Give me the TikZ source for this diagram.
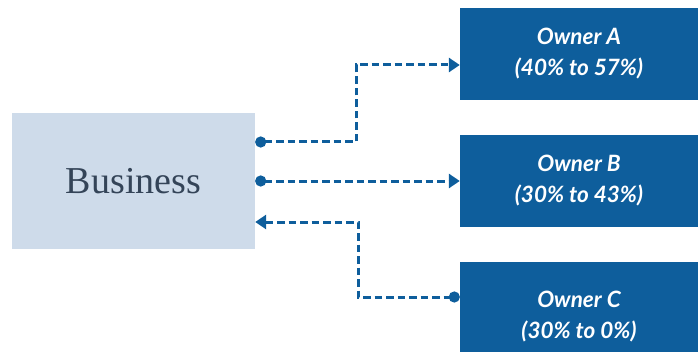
\documentclass[tikz,border=0pt]{standalone}
\usepackage{fontspec}
\setmainfont{Liberation Serif}
\newfontfamily\ownerfont{Lato}
\usetikzlibrary{arrows.meta}
\definecolor{ownerblue}{RGB}{14,94,156}
\definecolor{bizfill}{RGB}{206,219,234}
\definecolor{biztext}{RGB}{52,68,88}
\begin{document}
\begin{tikzpicture}[x=1pt,y=1pt,
    owner/.style={fill=ownerblue, text=white, minimum width=238pt, minimum height=92pt,
      inner sep=0pt, align=center, font=\ownerfont\bfseries\itshape\fontsize{22.5}{31}\selectfont},
    link/.style={draw=ownerblue, line width=3pt, dash pattern=on 7.5pt off 4pt},
    dot/.tip={Circle[length=11pt]},
    head/.tip={Triangle[length=11pt,width=14pt]}]
    \useasboundingbox (0,0) rectangle (700,351);
    \node[fill=bizfill, text=biztext, minimum width=243pt, minimum height=135pt, inner sep=0pt,
      font=\fontsize{38}{40}\selectfont] (business) at (133.5,170) {Business};
    \node[owner] (ownerA) at (579,297) {Owner A\\(40\% to 57\%)};
    \node[owner] (ownerB) at (579,170) {Owner B\\(30\% to 43\%)};
    \node[owner, minimum height=110pt] (ownerC) at (579,34) {Owner C\\(30\% to 0\%)};
    % connectors
    \coordinate (aTurn) at (356,286);
    \coordinate (cTurn) at (358,129);
    \draw[link, dot-head] ([yshift=39]business.east) -| (aTurn) -- ([yshift=-11]ownerA.west);
    \draw[link, dot-head] (business.east) -- (ownerB.west);
    \draw[link, head-dot] ([yshift=-41]business.east) -- (cTurn) |- ([yshift=20]ownerC.west);
\end{tikzpicture}
\end{document}
